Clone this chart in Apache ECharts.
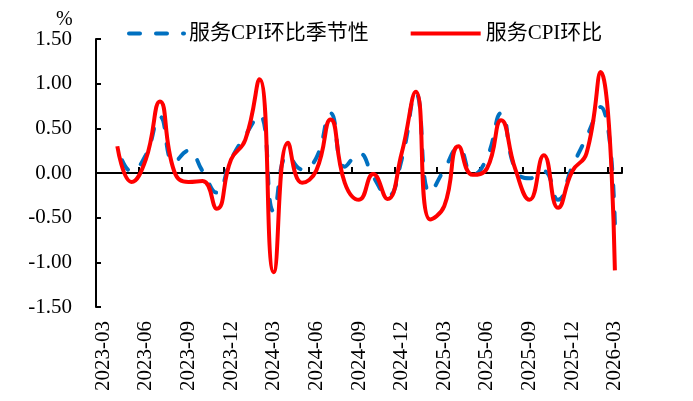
<!DOCTYPE html>
<html>
<head>
<meta charset="utf-8">
<script src="https://cdn.jsdelivr.net/npm/echarts@6/dist/echarts.min.js"></script>
<style>html,body{margin:0;padding:0;background:#fff;}#c{width:693px;height:401px;}</style>
</head>
<body>
<div id="c"></div>
<script>
const categories = ['2023-03','2023-04','2023-05','2023-06','2023-07','2023-08','2023-09','2023-10','2023-11','2023-12',
'2024-01','2024-02','2024-03','2024-04','2024-05','2024-06','2024-07','2024-08','2024-09','2024-10','2024-11','2024-12',
'2025-01','2025-02','2025-03','2025-04','2025-05','2025-06','2025-07','2025-08','2025-09','2025-10','2025-11','2025-12',
'2026-01','2026-02','2026-03'];
const seasonalName = '服务CPI环比季节性';
const actualName = '服务CPI环比';
const seasonal = [null,0.30,0.02,0.20,0.63,0.12,0.25,0.02,-0.22,0.15,
0.42,0.65,-0.43,0.20,0.04,0.17,0.67,0.07,0.22,-0.04,-0.26,0.15,
0.89,-0.22,0.04,0.28,-0.02,0.17,0.67,0.04,-0.06,0.02,-0.30,0.07,
0.40,0.74,-0.57];
const actual = [null,0.30,-0.10,0.15,0.80,0.02,-0.10,-0.09,-0.40,0.15,
0.37,1.05,-1.11,0.34,-0.11,0.03,0.60,-0.11,-0.30,-0.01,-0.29,0.22,
0.91,-0.52,-0.37,0.30,-0.02,0.05,0.59,0.04,-0.30,0.20,-0.39,0.02,
0.22,1.13,-1.09];
const yTicks = [-1.5, 1.5, 0.5];

const serif = 'Liberation Serif, "Times New Roman", "Noto Sans CJK SC", serif';
const chart = echarts.init(document.getElementById('c'), null, {renderer:'canvas'});
chart.setOption({
  animation:false,
  backgroundColor:'#fff',
  graphic:[{type:'text', left:56, top:10, style:{text:'%', font:'20px ' + serif, fill:'#000'}}],
  legend:{
    left:107, top:18, itemWidth:70, itemHeight:14, itemGap:40,
    itemStyle:{opacity:0, borderWidth:0},
    lineStyle:{width:4},
    textStyle:{fontFamily:serif, fontSize:21, color:'#000'},
    data:[seasonalName, actualName]
  },
  grid:{left:96, right:71, top:39, bottom:94},
  xAxis:[{
    type:'category', data:categories, boundaryGap:true, position:'bottom',
    axisLine:{show:false, onZero:false}, axisTick:{show:false},
    axisLabel:{interval:2, rotate:90, margin:14, fontFamily:serif, fontSize:21, color:'#000'}
  },{
    type:'category', data:categories, boundaryGap:true, position:'top',
    axisLine:{show:true, onZero:true, lineStyle:{color:'#000', width:2}},
    axisTick:{show:true, interval:2, inside:false, length:6, lineStyle:{color:'#000', width:2}},
    axisLabel:{show:false}
  }],
  yAxis:{
    type:'value', min:yTicks[0], max:yTicks[1], interval:yTicks[2],
    splitLine:{show:false},
    axisLine:{show:true, lineStyle:{color:'#000', width:2}},
    axisTick:{show:true, inside:true, length:5, lineStyle:{color:'#000', width:2}},
    axisLabel:{margin:24, formatter:v=>v.toFixed(2), fontFamily:serif, fontSize:21, color:'#000'}
  },
  series:[{
    name:seasonalName, type:'line', data:seasonal, smooth:0.5, showSymbol:false, symbol:'none',
    lineStyle:{color:'#0070C0', width:4, type:[11,16], dashOffset:12, cap:'round'}, itemStyle:{color:'#0070C0'}, z:2
  },{
    name:actualName, type:'line', data:actual, smooth:0.5, showSymbol:false, symbol:'none',
    lineStyle:{color:'#FF0000', width:4}, itemStyle:{color:'#FF0000'}, z:3
  }]
});
</script>
</body>
</html>
